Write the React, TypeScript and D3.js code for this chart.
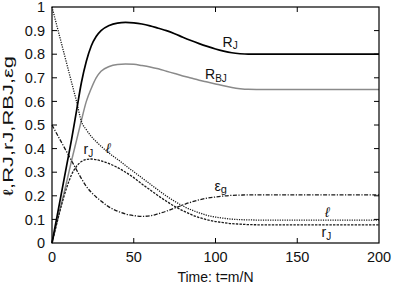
import React from "react";
import * as d3 from "d3";

const tGrid = [0, 3, 6, 9, 12, 15, 18, 21, 24, 27, 30, 35, 40, 45, 50, 55, 60, 65, 70, 75, 80, 85, 90, 95, 100, 105, 110, 115, 120, 130, 140, 160, 180, 200];

const RJ = [0, 0.11, 0.22, 0.33, 0.44, 0.56, 0.68, 0.77, 0.835, 0.875, 0.9, 0.922, 0.932, 0.935, 0.933, 0.928, 0.92, 0.91, 0.9, 0.887, 0.872, 0.858, 0.845, 0.833, 0.822, 0.813, 0.806, 0.802, 0.8, 0.8, 0.8, 0.8, 0.8, 0.8];
const RBJ = [0, 0.087, 0.174, 0.26, 0.35, 0.435, 0.52, 0.6, 0.655, 0.7, 0.728, 0.748, 0.756, 0.758, 0.757, 0.752, 0.746, 0.738, 0.728, 0.718, 0.708, 0.699, 0.69, 0.682, 0.674, 0.666, 0.659, 0.654, 0.651, 0.65, 0.65, 0.65, 0.65, 0.65];
const ELL = [1, 0.92, 0.84, 0.76, 0.68, 0.6, 0.515, 0.48, 0.452, 0.43, 0.41, 0.38, 0.355, 0.328, 0.302, 0.276, 0.25, 0.224, 0.199, 0.177, 0.157, 0.141, 0.128, 0.117, 0.11, 0.105, 0.101, 0.099, 0.098, 0.097, 0.097, 0.097, 0.097, 0.097];
const rJ = [0, 0.085, 0.165, 0.235, 0.29, 0.325, 0.345, 0.354, 0.356, 0.353, 0.348, 0.336, 0.32, 0.3, 0.277, 0.25, 0.225, 0.2, 0.177, 0.155, 0.137, 0.121, 0.108, 0.098, 0.091, 0.086, 0.082, 0.08, 0.078, 0.077, 0.077, 0.077, 0.077, 0.077];
const EPSG = [0.5, 0.462, 0.424, 0.386, 0.348, 0.31, 0.273, 0.24, 0.215, 0.195, 0.178, 0.152, 0.135, 0.123, 0.116, 0.113, 0.115, 0.124, 0.135, 0.148, 0.161, 0.173, 0.183, 0.19, 0.195, 0.199, 0.202, 0.203, 0.204, 0.204, 0.204, 0.204, 0.204, 0.204];

const yTicks = [0, 0.1, 0.2, 0.3, 0.4, 0.5, 0.6, 0.7, 0.8, 0.9, 1];
const yTickLabels = ["0", "0.1", "0.2", "0.3", "0.4", "0.5", "0.6", "0.7", "0.8", "0.9", "1"];
const xTicks = [0, 50, 100, 150, 200];
const xLabel = "Time: t=m/N";
const yLabel = "ℓ,RJ,rJ,RBJ,εg";

const W = 393, H = 291;
const L = 52, R = 379, T = 7, B = 243;
const FONT = "'Liberation Sans', Arial, Helvetica, sans-serif";

export default function App() {
  const x = d3.scaleLinear().domain([0, 200]).range([L, R]);
  const y = d3.scaleLinear().domain([0, 1]).range([B, T]);
  const line = (vals: number[]) =>
    d3.line<number>()
      .x((_, i) => x(tGrid[i]))
      .y((v) => y(v))
      .curve(d3.curveMonotoneX)(vals) || "";

  const series = [
    { vals: RBJ, stroke: "#8a8a8a", width: 1.5, dash: "" },
    { vals: EPSG, stroke: "#1a1a1a", width: 1.3, dash: "4,1.5,1.2,1.5" },
    { vals: rJ, stroke: "#1a1a1a", width: 1.3, dash: "2.4,1.2" },
    { vals: ELL, stroke: "#1a1a1a", width: 1.3, dash: "1.2,1.2" },
    { vals: RJ, stroke: "#000", width: 1.7, dash: "" },
  ];

  const tl = 5;
  return (
    <svg width={W} height={H} style={{ position: "absolute", left: 0, top: 0, background: "#fff" }} fontFamily={FONT}>
      <rect x={0} y={0} width={W} height={H} fill="#fff" />
      {series.map((s, i) => (
        <path key={i} d={line(s.vals)} fill="none" stroke={s.stroke} strokeWidth={s.width} strokeDasharray={s.dash || undefined} />
      ))}
      {yTicks.map((v, i) => (
        <g key={"y" + i}>
          {i > 0 && i < yTicks.length - 1 && (
            <>
              <line x1={L} x2={L + tl} y1={y(v)} y2={y(v)} stroke="#000" strokeWidth={1} />
              <line x1={R} x2={R - tl} y1={y(v)} y2={y(v)} stroke="#000" strokeWidth={1} />
            </>
          )}
          <text x={45} y={y(v)} dy="0.36em" textAnchor="end" fontSize={14.5} fill="#111">{yTickLabels[i]}</text>
        </g>
      ))}
      {xTicks.map((v, i) => (
        <g key={"x" + i}>
          {i > 0 && i < xTicks.length - 1 && (
            <>
              <line x1={x(v)} x2={x(v)} y1={B} y2={B - tl} stroke="#000" strokeWidth={1} />
              <line x1={x(v)} x2={x(v)} y1={T} y2={T + tl} stroke="#000" strokeWidth={1} />
            </>
          )}
          <text x={x(v)} y={262} textAnchor="middle" fontSize={14.5} fill="#111">{v}</text>
        </g>
      ))}
      <rect x={L} y={T} width={R - L} height={B - T} fill="none" stroke="#000" strokeWidth={1.2} />
      <text x={(L + R) / 2} y={282} textAnchor="middle" fontSize={14} fill="#111">{xLabel}</text>
      <text transform={`translate(13,126) rotate(-90)`} textAnchor="middle" fontSize={14} fill="#111" textLength={140} lengthAdjust="spacingAndGlyphs">{yLabel}</text>

      <text x={222.5} y={46.5} fontSize={14} fill="#111">R<tspan fontSize={10} dy={2.5}>J</tspan></text>
      <text x={205} y={78.5} fontSize={14} fill="#111">R<tspan fontSize={10} dy={3}>BJ</tspan></text>
      <text x={214.5} y={190.5} fontSize={14} fill="#111">ε<tspan fontSize={11} dy={2}>g</tspan></text>
      <text x={325} y={216.5} fontSize={14} fontStyle="italic" fill="#111">ℓ</text>
      <text x={321.5} y={236.5} fontSize={14} fill="#111">r<tspan fontSize={10} dy={3}>J</tspan></text>
      <text x={83.5} y={154} fontSize={14} fill="#111">r<tspan fontSize={10} dy={3}>J</tspan></text>
      <text x={106} y={153} fontSize={14} fontStyle="italic" fill="#111">ℓ</text>
    </svg>
  );
}
